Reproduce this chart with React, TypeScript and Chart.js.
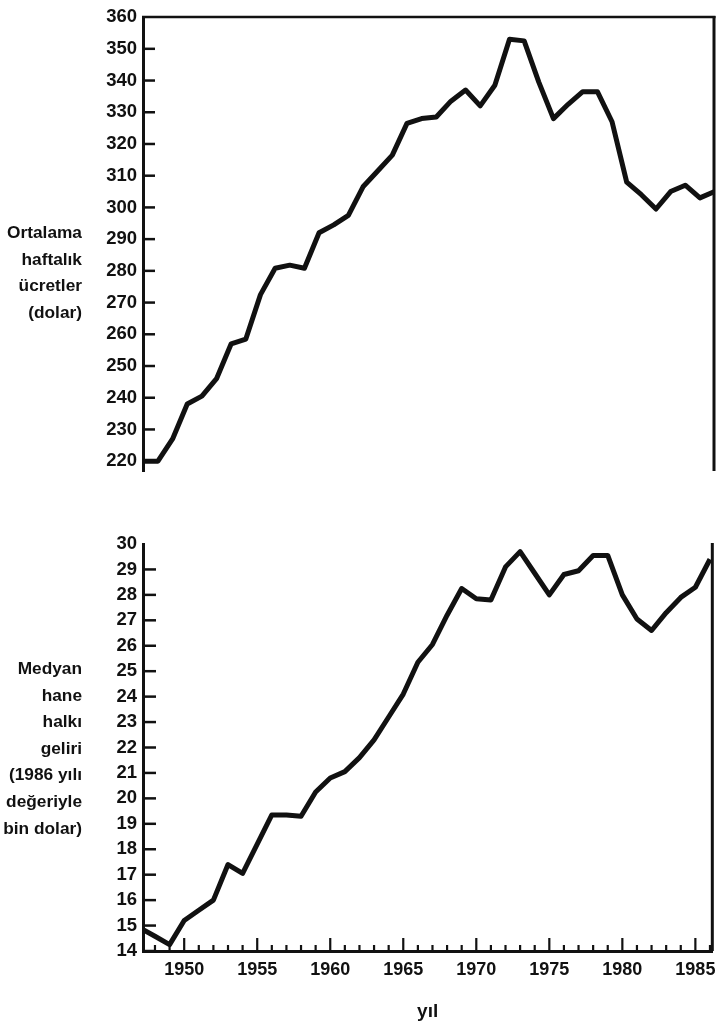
import React, { useEffect, useRef } from 'react';
import { Chart, registerables } from 'chart.js';

Chart.register(...registerables);

// ---- data ----
const years = [
  1947, 1948, 1949, 1950, 1951, 1952, 1953, 1954, 1955, 1956,
  1957, 1958, 1959, 1960, 1961, 1962, 1963, 1964, 1965, 1966,
  1967, 1968, 1969, 1970, 1971, 1972, 1973, 1974, 1975, 1976,
  1977, 1978, 1979, 1980, 1981, 1982, 1983, 1984, 1985, 1986,
];
const weeklyWages = [
  220, 220, 227, 238, 240.5, 246, 257, 258.5, 272.5, 280.8,
  281.8, 280.8, 292, 294.5, 297.5, 306.5, 311.5, 316.5, 326.5, 328,
  328.5, 333.5, 337, 332, 338.5, 353, 352.5, 339.5, 328, 332.5,
  336.5, 336.5, 327, 308, 304, 299.5, 305, 307, 303, 305,
];
const medianIncome = [
  14.9, 14.58, 14.25, 15.2, 15.6, 16.0, 17.4, 17.05, 18.2, 19.35,
  19.35, 19.3, 20.25, 20.8, 21.05, 21.6, 22.3, 23.2, 24.1, 25.35,
  26.05, 27.2, 28.25, 27.85, 27.8, 29.1, 29.7, 28.85, 28.0, 28.8,
  28.95, 29.55, 29.55, 28.0, 27.05, 26.6, 27.3, 27.9, 28.3, 29.4,
];

const wageLabel = ['Ortalama', 'haftalık', 'ücretler', '(dolar)'];
const incomeLabel = ['Medyan', 'hane', 'halkı', 'geliri', '(1986 yılı', 'değeriyle', 'bin dolar)'];
const xTitle = 'yıl';

const yearRange = { min: 1947.18, max: 1986.16 };
const topYearRange = { min: 1946.98, max: 1985.96 };
const wageRange = { min: 216.9, max: 360, step: 10 };
const incomeRange = { min: 14, max: 30, step: 1 };
const majorYearStep = 5;

const INK = '#111';
const FONT = '"Liberation Sans", Arial, Helvetica, sans-serif';

const innerTicks = {
  id: 'innerTicks',
  afterDraw(chart: any, _args: any, opts: any) {
    const { ctx, chartArea: ca, scales } = chart;
    ctx.save();
    ctx.strokeStyle = INK;
    ctx.lineCap = 'butt';
    ctx.lineWidth = 2.5;
    const ys = scales.y;
    ys.ticks.forEach((t: any) => {
      if (t.value >= ys.max) return;
      const py = ys.getPixelForValue(t.value);
      ctx.beginPath();
      ctx.moveTo(ca.left, py);
      ctx.lineTo(ca.left + opts.yLen, py);
      ctx.stroke();
    });
    if (opts.xTicks) {
      const xs = scales.x;
      ctx.lineWidth = 2.2;
      xs.ticks.forEach((t: any) => {
        const px = xs.getPixelForValue(t.value);
        const len = t.value % majorYearStep === 0 ? opts.xMajor : opts.xMinor;
        ctx.beginPath();
        ctx.moveTo(px, ca.bottom);
        ctx.lineTo(px, ca.bottom - len);
        ctx.stroke();
      });
    }
    if (opts.frameTop) {
      ctx.lineWidth = 2.5;
      ctx.beginPath();
      ctx.moveTo(ca.left - 1, ca.top);
      ctx.lineTo(ca.right + 1.5, ca.top);
      ctx.stroke();
    }
    if (opts.frameRight) {
      ctx.lineWidth = 3;
      ctx.beginPath();
      ctx.moveTo(ca.right, ca.top - 1);
      ctx.lineTo(ca.right, ca.bottom);
      ctx.stroke();
    }
    ctx.restore();
  },
};

function TopChart() {
  const ref = useRef<HTMLCanvasElement>(null);
  useEffect(() => {
    const chart = new Chart(ref.current!, {
      type: 'line',
      data: {
        datasets: [
          {
            data: years.map((yr, i) => ({ x: yr, y: weeklyWages[i] })),
            borderColor: INK,
            borderWidth: 5,
            pointRadius: 0,
            tension: 0,
            borderJoinStyle: 'round',
          },
        ],
      },
      options: {
        animation: false,
        responsive: false,
        layout: { padding: { top: 14, right: 4, bottom: 19, left: 0 } },
        plugins: {
          legend: { display: false },
          tooltip: { enabled: false },
          innerTicks: { yLen: 12, frameTop: true, frameRight: true },
        } as any,
        scales: {
          x: { type: 'linear', display: false, min: topYearRange.min, max: topYearRange.max },
          y: {
            type: 'linear',
            min: wageRange.min,
            max: wageRange.max,
            afterFit: (s: any) => { s.width = 143; },
            grid: { display: false, drawTicks: false },
            border: { display: true, color: INK, width: 3 },
            ticks: {
              stepSize: wageRange.step,
              includeBounds: false,
              padding: 6,
              color: INK,
              font: { family: FONT, size: 18.5, weight: 'bold' },
            },
          },
        },
      },
      plugins: [innerTicks],
    } as any);
    return () => chart.destroy();
  }, []);
  return <canvas ref={ref} width={718} height={490} style={{ display: 'block' }} />;
}

function BottomChart() {
  const ref = useRef<HTMLCanvasElement>(null);
  useEffect(() => {
    const chart = new Chart(ref.current!, {
      type: 'line',
      data: {
        datasets: [
          {
            data: years.map((yr, i) => ({ x: yr, y: medianIncome[i] })),
            borderColor: INK,
            borderWidth: 5,
            pointRadius: 0,
            tension: 0,
            borderJoinStyle: 'round',
          },
        ],
      },
      options: {
        animation: false,
        responsive: false,
        layout: { padding: { top: 54, right: 5, bottom: 0, left: 0 } },
        plugins: {
          legend: { display: false },
          tooltip: { enabled: false },
          innerTicks: { yLen: 13, xTicks: true, xMajor: 13, xMinor: 6, frameRight: true },
        } as any,
        scales: {
          x: {
            type: 'linear',
            min: yearRange.min,
            max: yearRange.max,
            afterFit: (s: any) => { s.height = 74; },
            grid: { display: false, drawTicks: false },
            border: { display: true, color: INK, width: 3 },
            ticks: {
              stepSize: 1,
              includeBounds: false,
              autoSkip: false,
              maxRotation: 0,
              minRotation: 0,
              padding: 8,
              color: INK,
              font: { family: FONT, size: 18, weight: 'bold' },
              callback: (v: any) => (Number(v) % majorYearStep === 0 ? String(v) : ''),
            },
            title: {
              display: true,
              text: xTitle,
              color: INK,
              font: { family: FONT, size: 19, weight: 'bold' },
              padding: { top: 0, bottom: 2 },
            },
          },
          y: {
            type: 'linear',
            min: incomeRange.min,
            max: incomeRange.max,
            afterFit: (s: any) => { s.width = 143; },
            grid: { display: false, drawTicks: false },
            border: { display: true, color: INK, width: 3 },
            ticks: {
              stepSize: incomeRange.step,
              padding: 6,
              color: INK,
              font: { family: FONT, size: 18.5, weight: 'bold' },
            },
          },
        },
      },
      plugins: [innerTicks],
    } as any);
    return () => chart.destroy();
  }, []);
  return <canvas ref={ref} width={718} height={535} style={{ display: 'block' }} />;
}

const sideLabelStyle: React.CSSProperties = {
  position: 'absolute',
  right: 636,
  textAlign: 'right',
  fontFamily: FONT,
  fontWeight: 'bold',
  fontSize: 17.3,
  lineHeight: '26.6px',
  color: INK,
  whiteSpace: 'nowrap',
};

export default function App() {
  return (
    <div style={{ position: 'absolute', left: 0, top: 0, width: 718, height: 1025, background: '#fff', overflow: 'hidden' }}>
      <div style={{ position: 'absolute', left: 0, top: 0 }}>
        <TopChart />
      </div>
      <div style={{ position: 'absolute', left: 0, top: 490 }}>
        <BottomChart />
      </div>
      <div style={{ ...sideLabelStyle, top: 219 }}>
        {wageLabel.map((l) => (
          <div key={l}>{l}</div>
        ))}
      </div>
      <div style={{ ...sideLabelStyle, top: 655 }}>
        {incomeLabel.map((l) => (
          <div key={l}>{l}</div>
        ))}
      </div>
    </div>
  );
}
